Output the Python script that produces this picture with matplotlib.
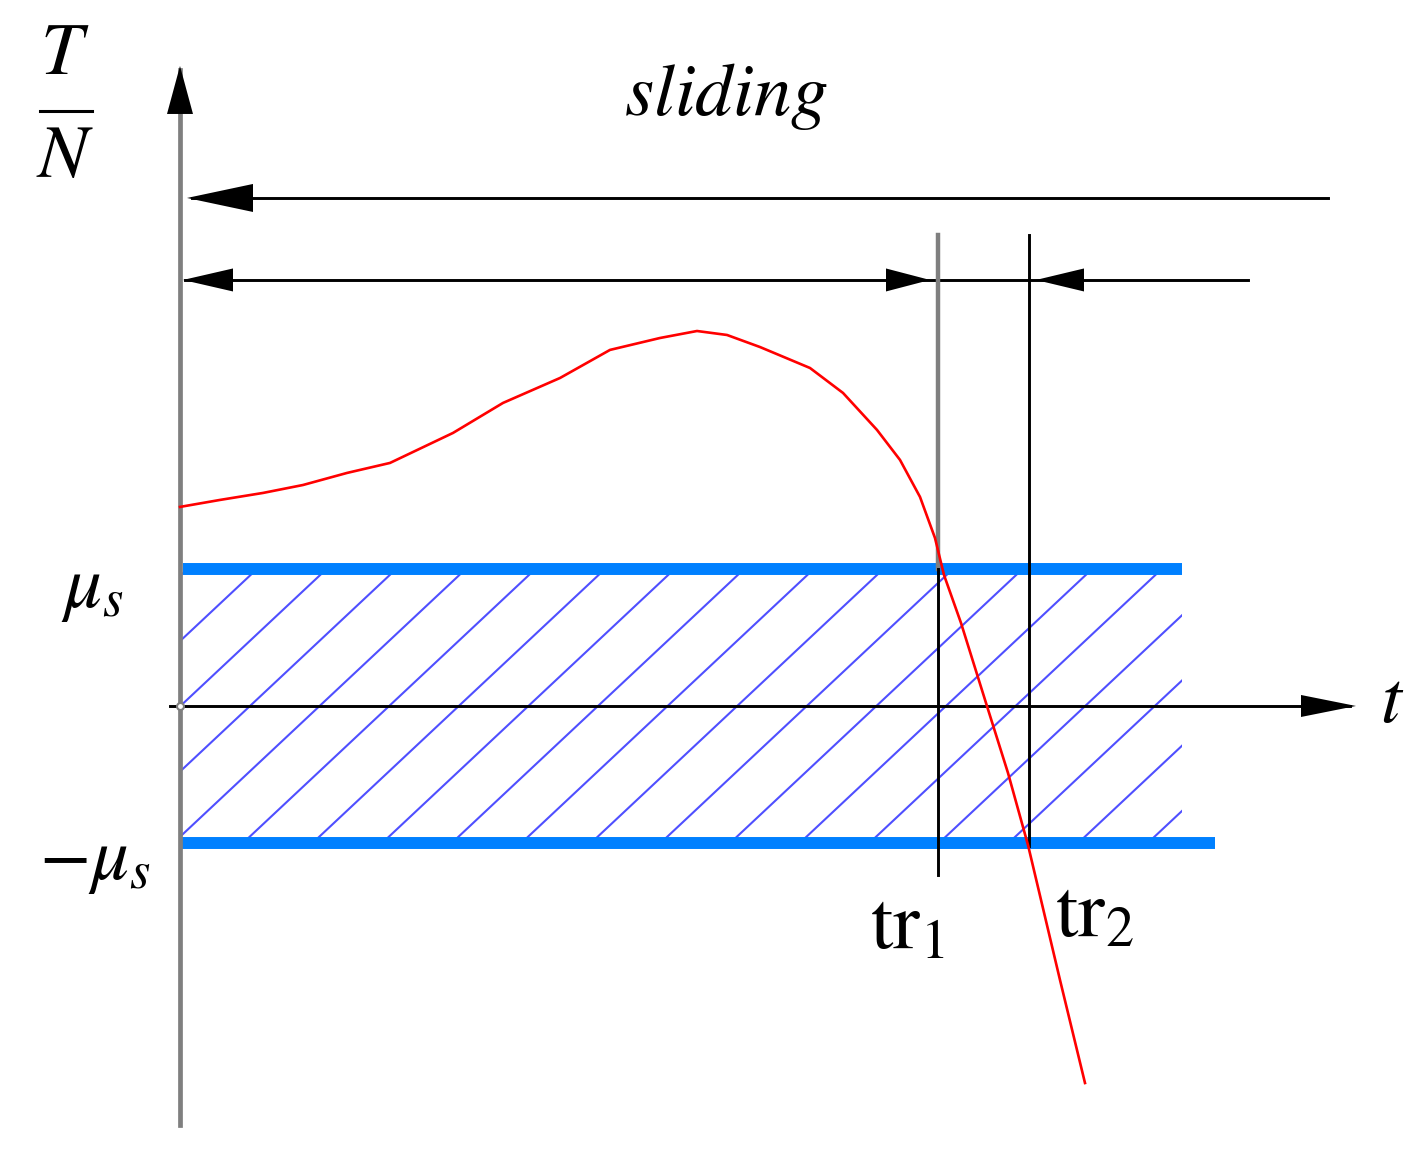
import numpy as np
import matplotlib.pyplot as plt
from matplotlib.patches import Rectangle

plt.rcParams['mathtext.fontset'] = 'stix'
plt.rcParams['font.family'] = ['STIXGeneral', 'DejaVu Serif']

# friction ratio T/N against time (t in arbitrary units, mu_s = 1)
t_curve = [0.0, 0.4, 0.83, 1.23, 1.67, 2.10, 2.73, 3.23, 3.80, 4.30, 4.80, 5.17,
           5.47, 5.80, 6.30, 6.63, 6.97, 7.20, 7.40, 7.55, 7.64, 7.81, 8.06,
           8.28, 8.48, 8.80, 9.05]
ratio_curve = [1.453, 1.504, 1.555, 1.613, 1.701, 1.774, 1.993, 2.212, 2.394,
               2.599, 2.686, 2.737, 2.708, 2.620, 2.467, 2.285, 2.015, 1.796,
               1.526, 1.226, 0.956, 0.606, 0.022, -0.489, -1.015, -2.0, -2.752]
mu_s = 1.0
tr1 = 7.58
tr2 = 8.49

BLUE = '#0080ff'
GRAY = '#7f7f7f'

# pixel -> data helpers (origin of the diagram at pixel 180, 706)
sx = 1 / 100
sy = 1 / 137


def px(x, y):
    return (x - 180) * sx, (706 - y) * sy


fig = plt.figure(figsize=(14.27, 11.57), dpi=100)
ax = fig.add_axes([0, 0, 1, 1])
ax.set_xlim(-1.8, 12.47)
ax.set_ylim(-3.292, 5.153)
ax.axis('off')


def head(tx, ty, direction, length, half):
    if direction == 'up':
        back = ty - length * sy
        ax.fill([tx - half * sx, tx + half * sx, tx], [back, back, ty],
                color='black', lw=0, zorder=6)
    else:
        d = 1 if direction == 'right' else -1
        back = tx - d * length * sx
        ax.fill([tx, back, back], [ty, ty + half * sy, ty - half * sy],
                color='black', lw=0, zorder=6)


# hatched stick zone between -mu_s and mu_s
x_end = 10.02
clip = Rectangle((0, -mu_s), x_end, 2 * mu_s, transform=ax.transData)
slope = 0.684
for k in range(-4, 16):
    x0 = 0.70 + k * 0.696
    ln, = ax.plot([x0 - 1.6 / slope, x0 + 1.6 / slope], [-1.6, 1.6],
                  color='#4f4fff', lw=1.5, zorder=2)
    ln.set_clip_path(clip)

ax.plot([0.03, x_end], [mu_s, mu_s], color=BLUE, lw=8.6,
        solid_capstyle='butt', zorder=3)
ax.plot([0.0, 10.35], [-mu_s, -mu_s], color=BLUE, lw=8.6,
        solid_capstyle='butt', zorder=3)

# axes
ax.plot([0, 0], [px(0, 1125)[1], px(0, 70)[1]], color=GRAY, lw=3.4, zorder=4)
head(0, px(0, 66)[1], 'up', 48, 13)
ax.plot([-0.1, 11.70], [0, 0], color='black', lw=2.1, zorder=4)
head(11.76, 0, 'right', 55, 11)
ax.plot([0], [0], marker='o', ms=5, mfc='white', mec=GRAY, mew=1.5, zorder=5)

# sliding arrows
y_top = px(0, 198)[1]
ax.plot([0.12, 11.48], [y_top, y_top], color='black', lw=2.1, zorder=4)
head(0.07, y_top, 'left', 66, 14)

y2 = px(0, 280)[1]
ax.plot([0.05, 10.68], [y2, y2], color='black', lw=2.1, zorder=4)
head(0.03, y2, 'left', 50, 11.5)
head(7.50, y2, 'right', 44, 11.5)
head(8.56, y2, 'left', 48, 11.5)

# transition lines
y_v = px(0, 235)[1]
ax.plot([tr1, tr1], [y_v, mu_s], color=GRAY, lw=3.2, zorder=4)
ax.plot([tr1, tr1], [mu_s, px(0, 875)[1]], color='black', lw=2.1, zorder=4)
ax.plot([tr2, tr2], [y_v, px(0, 846)[1]], color='black', lw=2.1, zorder=4)

# T/N curve
ax.plot(t_curve, ratio_curve, color='red', lw=1.9, zorder=5)

# labels
fs = 54
ax.text(*px(65, 57), '$T$', fontsize=fs, ha='center', va='center')
ax.text(*px(65, 160), '$N$', fontsize=fs, ha='center', va='center')
ax.plot(*zip(px(40, 111), px(92, 111)), color='black', lw=2.2)
ax.text(*px(726, 97), r'$\mathit{sliding}$', fontsize=fs, ha='center', va='center')
ax.text(*px(93, 590), r'$\mu_s$', fontsize=fs, ha='center', va='center')
ax.text(*px(95, 862), r'$-\mu_s$', fontsize=fs, ha='center', va='center')
ax.text(*px(1392, 705), '$t$', fontsize=fs, ha='center', va='center')
ax.text(*px(870, 948), r'$\mathrm{tr}_1$', fontsize=58, ha='left', va='baseline')
ax.text(*px(1055, 936), r'$\mathrm{tr}_2$', fontsize=58, ha='left', va='baseline')

fig.savefig('out.png', dpi=100, facecolor='white')
